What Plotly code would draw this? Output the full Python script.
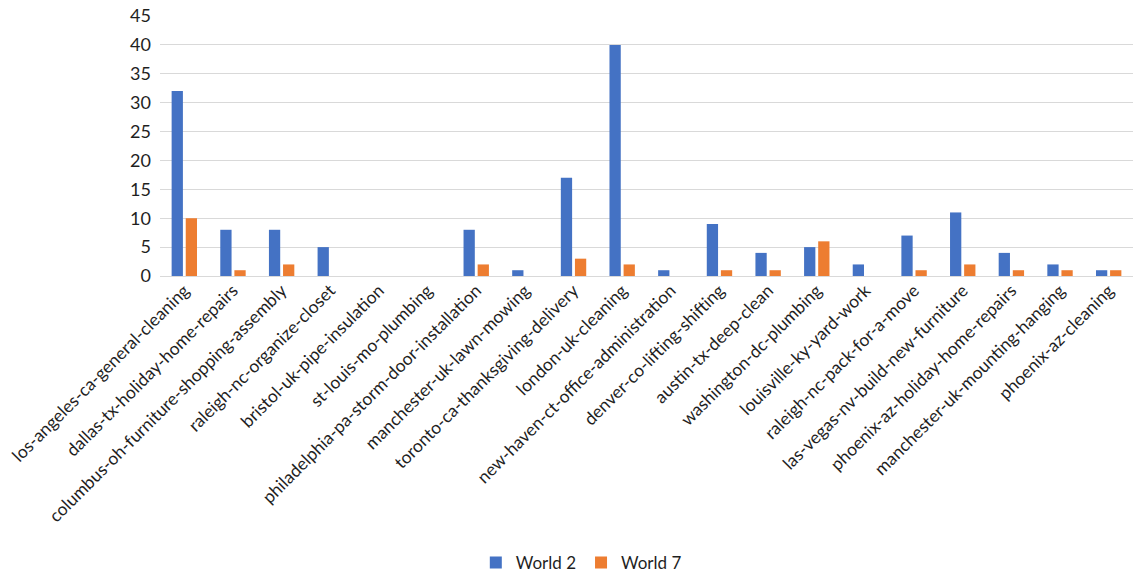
import plotly.graph_objects as go

categories = [
    "los-angeles-ca-general-cleaning",
    "dallas-tx-holiday-home-repairs",
    "columbus-oh-furniture-shopping-assembly",
    "raleigh-nc-organize-closet",
    "bristol-uk-pipe-insulation",
    "st-louis-mo-plumbing",
    "philadelphia-pa-storm-door-installation",
    "manchester-uk-lawn-mowing",
    "toronto-ca-thanksgiving-delivery",
    "london-uk-cleaning",
    "new-haven-ct-office-administration",
    "denver-co-lifting-shifting",
    "austin-tx-deep-clean",
    "washington-dc-plumbing",
    "louisville-ky-yard-work",
    "raleigh-nc-pack-for-a-move",
    "las-vegas-nv-build-new-furniture",
    "phoenix-az-holiday-home-repairs",
    "manchester-uk-mounting-hanging",
    "phoenix-az-cleaning",
]
world2 = [32, 8, 8, 5, 0, 0, 8, 1, 17, 40, 1, 9, 4, 5, 2, 7, 11, 4, 2, 1]
world7 = [10, 1, 2, 0, 0, 0, 2, 0, 3, 2, 0, 1, 1, 6, 0, 1, 2, 1, 1, 1]
y_ticks = [0, 5, 10, 15, 20, 25, 30, 35, 40, 45]

FONT = "Lato, 'Open Sans', sans-serif"
TEXT = "#1F1F1F"

fig = go.Figure()
fig.add_trace(go.Bar(
    name="World 2", x=categories, y=world2,
    marker=dict(color="#4472C4", line=dict(width=0)),
))
fig.add_trace(go.Bar(
    name="World 7", x=categories, y=world7,
    marker=dict(color="#ED7D31", line=dict(width=0)),
))

fig.update_layout(
    width=1137, height=575,
    margin=dict(l=160, r=4, t=16, b=299, autoexpand=False),
    paper_bgcolor="white", plot_bgcolor="white",
    barmode="group", bargap=0.42, bargroupgap=0.2,
    font=dict(family=FONT, size=17, color=TEXT),
    showlegend=True,
    legend=dict(
        orientation="h", x=0.433, xanchor="center",
        yref="container", y=0.021, yanchor="middle",
        font=dict(family=FONT, size=17, color=TEXT),
        itemwidth=30, tracegroupgap=0,
    ),
    xaxis=dict(
        tickangle=-45, automargin=False, showgrid=False, showline=False,
        ticks="", tickfont=dict(family=FONT, size=17.5, color=TEXT),
    ),
    yaxis=dict(
        range=[0, 45], tickvals=y_ticks, automargin=False,
        showgrid=True, gridcolor="#D9D9D9", gridwidth=1,
        zeroline=True, zerolinecolor="#D9D9D9", zerolinewidth=1,
        showline=False, ticks="", ticklabelstandoff=8,
        tickfont=dict(family=FONT, size=18, color=TEXT),
    ),
)

fig.write_html("out.html")
